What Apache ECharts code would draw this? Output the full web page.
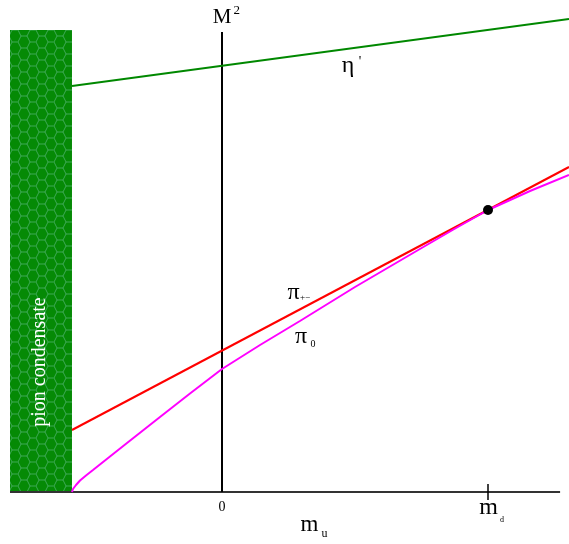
<!DOCTYPE html>
<html>
<head>
<meta charset="utf-8">
<script src="https://cdn.jsdelivr.net/npm/echarts@6/dist/echarts.min.js"></script>
<style>
  html, body { margin: 0; padding: 0; background: #fff; }
  #chart { width: 569px; height: 544px; }
</style>
</head>
<body>
<div id="chart"></div>
<script>
// x: m_u in units of m_d, y: M^2 (arbitrary units)
const condensateX = [-0.797, -0.564];
const condensateTop = 4.62;
const etaPrime = [[-0.564, 4.06], [1.3045, 4.73]];
const piCharged = [[-0.564, 0.62], [1.3045, 3.25]];
const piNeutral = [
  [-0.564, 0], [-0.5602, 0.03], [-0.5564, 0.045], [-0.5489, 0.07], [-0.5338, 0.115],
  [-0.5113, 0.165], [-0.485, 0.22], [-0.4211, 0.355], [-0.3571, 0.49], [-0.2331, 0.75],
  [-0.1203, 0.985], [0, 1.23], [0.143, 1.47], [0.293, 1.71], [0.5, 2.05], [0.744, 2.43],
  [0.87, 2.625], [1, 2.82], [1.158, 3.01], [1.3045, 3.17]
];
const crossing = [[1, 2.82]];
const xAxisLine = [[-0.797, 0], [1.271, 0]];
const yAxisLine = [[0, 0], [0, 4.6]];
const mdTick = [[1, -0.08], [1, 0.08]];

// text annotations [x, y, text, fontSize]
const labels = [
  [0, 4.75, 'M', 21],
  [0.055, 4.815, '2', 13],
  [0.474, 4.26, 'η', 24],
  [0.519, 4.30, '\'', 14],
  [0.269, 1.99, 'π', 24],
  [0.312, 1.94, '+−', 9],
  [0.297, 1.55, 'π', 24],
  [0.342, 1.48, '0', 10],
  [0, -0.15, '0', 14],
  [1.002, -0.16, 'm', 24],
  [1.053, -0.28, 'd', 8],
  [0.329, -0.33, 'm', 23],
  [0.385, -0.42, 'u', 12]
];

function hexPattern() {
  const r = 6, h = 12;
  const c = document.createElement('canvas');
  c.width = 3 * r; c.height = h;
  const g = c.getContext('2d');
  g.fillStyle = '#058a05';
  g.fillRect(0, 0, c.width, c.height);
  g.strokeStyle = 'rgba(100,190,140,0.6)';
  g.lineWidth = 1;
  g.beginPath();
  g.moveTo(0, h / 2);
  g.lineTo(r / 2, 0);
  g.lineTo(1.5 * r, 0);
  g.lineTo(2 * r, h / 2);
  g.lineTo(1.5 * r, h);
  g.lineTo(r / 2, h);
  g.closePath();
  g.moveTo(2 * r, h / 2);
  g.lineTo(3 * r, h / 2);
  g.stroke();
  return c;
}

const serif = '"Liberation Serif", "DejaVu Serif", serif';
const chart = echarts.init(document.getElementById('chart'));

const lineSeries = (data, color, width) => ({
  type: 'line', data: data, showSymbol: false, symbol: 'none', silent: true,
  lineStyle: { color: color, width: width }, z: 3
});

chart.setOption({
  animation: false,
  grid: { left: 0, right: 0, top: 0, bottom: 0 },
  xAxis: { type: 'value', min: -0.8346, max: 1.3045, show: false },
  yAxis: { type: 'value', min: -0.52, max: 4.92, show: false },
  series: [
    {
      type: 'custom',
      data: [[condensateX[0], condensateX[1], condensateTop]],
      renderItem: function (params, api) {
        const p0 = api.coord([api.value(0), api.value(2)]);
        const p1 = api.coord([api.value(1), 0]);
        return {
          type: 'rect',
          shape: { x: p0[0], y: p0[1], width: p1[0] - p0[0], height: p1[1] - p0[1] },
          style: { fill: { image: hexPattern(), repeat: 'repeat' } }
        };
      },
      z: 1
    },
    lineSeries(xAxisLine, '#333', 2),
    lineSeries(yAxisLine, '#000', 2),
    lineSeries(mdTick, '#000', 1.5),
    lineSeries(etaPrime, '#008800', 2),
    lineSeries(piCharged, '#ff0000', 2),
    lineSeries(piNeutral, '#ff00ff', 2),
    {
      type: 'scatter', data: crossing, symbolSize: 10, z: 5,
      itemStyle: { color: '#000', opacity: 1 }
    },
    {
      type: 'scatter', symbolSize: 0, z: 6, silent: true,
      itemStyle: { opacity: 1 },
      data: labels.map(l => ({ value: [l[0], l[1]], text: l[2], label: { fontSize: l[3] } })),
      label: {
        show: true, position: 'inside', color: '#000', fontFamily: serif,
        formatter: p => p.data.text
      }
    },
    {
      type: 'scatter', symbolSize: 0, z: 6, silent: true,
      itemStyle: { opacity: 1 },
      data: [[-0.684, 1.30]],
      label: {
        show: true, position: 'inside', color: '#fff', fontFamily: serif,
        fontSize: 20, rotate: 90, formatter: 'pion condensate'
      }
    }
  ]
});
</script>
</body>
</html>
